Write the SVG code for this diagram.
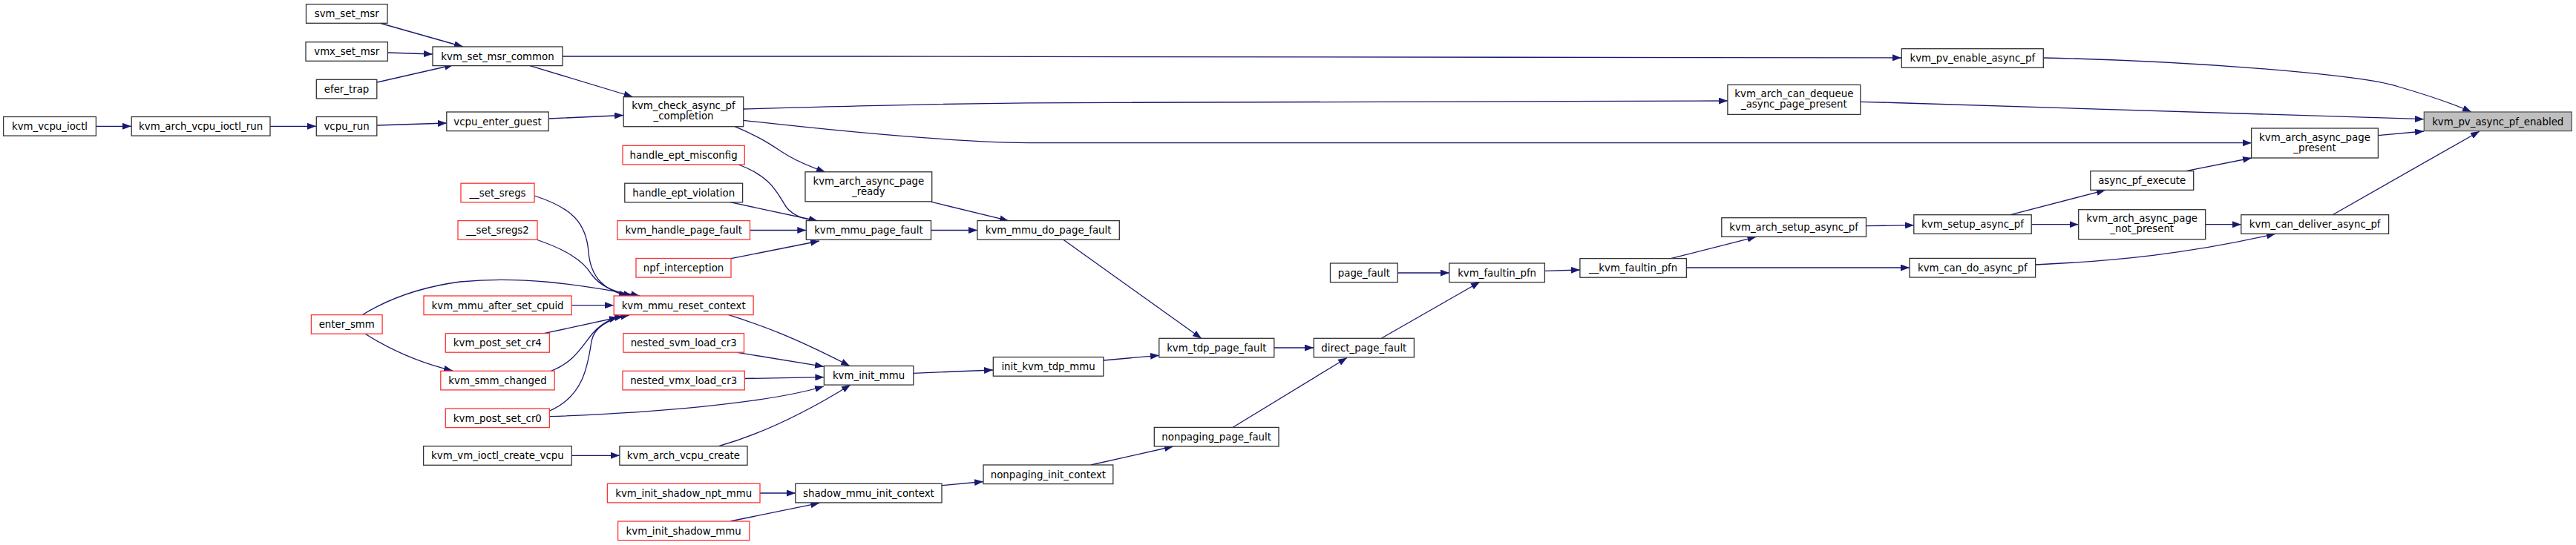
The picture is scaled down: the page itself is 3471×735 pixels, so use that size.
<svg xmlns="http://www.w3.org/2000/svg" width="3471" height="735" viewBox="0 0 3471 735">
<defs>
<marker id="a" viewBox="0 0 12 9" refX="12" refY="4.5" markerWidth="12" markerHeight="9" markerUnits="userSpaceOnUse" orient="auto"><path d="M0,0L12,4.5L0,9z" fill="#191970"/></marker>
<style>
.n rect{fill:#fff;stroke:#333;stroke-width:1.3}
.r rect{stroke:#f33}
.g rect{fill:#bfbfbf;stroke:#555}
text{font-family:"DejaVu Sans",sans-serif;font-size:13.33px;text-anchor:middle;fill:#000}
#edges path{fill:none;stroke:#191970;stroke-width:1.3;marker-end:url(#a)}
</style>
</defs>
<rect width="3471" height="735" fill="#fff"/>
<g id="edges">
<path d="M513,31.5L624,63"/>
<path d="M522.4,71L583,73"/>
<path d="M508,111L611,87.5"/>
<path d="M129.4,170.3L177,170.3"/>
<path d="M364,170.3L426,170.3"/>
<path d="M508,169L602,166"/>
<path d="M758,76C1500,76 2400,76 2562,78"/>
<path d="M714,88.7L852.5,130.5"/>
<path d="M739,160L840,155.5"/>
<path d="M1002,147C1150,143 1300,138.5 1500,138.3L2328,136"/>
<path d="M1002,162.3C1150,179 1300,192.7 1400,192.7L3034,192.7"/>
<path d="M990,170.7C1030,187 1045,200 1062,210S1095,226 1112,232"/>
<path d="M2753,78C2950,82 3180,100 3232,117C3280,131 3310,142 3330,151"/>
<path d="M2507,137.3C2800,145 3100,157 3266,160.7"/>
<path d="M3204.4,182.7L3266,177"/>
<path d="M3143,289.7L3341,177"/>
<path d="M995,222C1040,238 1048,262 1060,280C1070,292 1085,296 1102,298"/>
<path d="M983.7,272.7L1102,298"/>
<path d="M1010.5,310.5L1086.3,310.5"/>
<path d="M985,348.7L1104,325"/>
<path d="M1255,272.3L1359,297.7"/>
<path d="M1254.5,310.5L1317,310.5"/>
<path d="M1432.5,323L1619,456.5"/>
<path d="M1717,469L1770,469"/>
<path d="M1661.3,576.3L1815,482.5"/>
<path d="M1861.7,456L1994,380.3"/>
<path d="M1883,368L1953,368"/>
<path d="M2081.4,365.3L2129,364"/>
<path d="M2251.3,348.7L2366.4,319.3"/>
<path d="M2272.4,361L2573,361"/>
<path d="M2514.5,304.7L2579,303.7"/>
<path d="M2709,289.7L2837,256.3"/>
<path d="M2737.2,302.7L2800.7,302.7"/>
<path d="M2742.6,357C2850,352 2950,342 3066,315.3"/>
<path d="M2971.7,302.7L3020,302.7"/>
<path d="M2945.5,230.7L3034,213"/>
<path d="M720,264C770,280 790,300 793,340C796,375 815,392 846,399"/>
<path d="M724,323.5C760,336 785,350 797,370C808,385 825,393 852,399"/>
<path d="M488,424.7C520,405 560,388 620,380C700,372 780,383 862,399"/>
<path d="M770,411.7L827,411.7"/>
<path d="M733,449.7L833,428"/>
<path d="M742.6,500.3C775,488 785,465 800,448C812,435 825,429 840,426.5"/>
<path d="M740.7,554C785,535 792,495 797,460C801,440 820,430 848,425"/>
<path d="M491.8,450C520,468 560,488 610,500"/>
<path d="M981.8,424.7C1030,440 1070,455 1145,493.5"/>
<path d="M993.3,475.3L1110,494.3"/>
<path d="M1003.3,510.5L1110.4,508.7"/>
<path d="M740.4,561.7C870,557 1030,545 1110,521"/>
<path d="M968.4,601.7C1020,587 1080,560 1146,519"/>
<path d="M770,614.3L835,614.3"/>
<path d="M1230.8,503.3L1338,499"/>
<path d="M1487,486L1562,479.3"/>
<path d="M1024,665L1072,665"/>
<path d="M983.7,703L1104.3,678.3"/>
<path d="M1269,654.7L1325,649.5"/>
<path d="M1470,627L1581,602"/>
</g>
<g id="n1" class="n"><rect x="412.5" y="5.7" width="109.5" height="25.6"/><text x="467.25" y="23.2">svm_set_msr</text></g>
<g id="n2" class="n"><rect x="412" y="56.7" width="110.4" height="25.6"/><text x="467.2" y="74.2">vmx_set_msr</text></g>
<g id="n3" class="n"><rect x="426.3" y="107.3" width="81.5" height="25.6"/><text x="467.05" y="124.8">efer_trap</text></g>
<g id="n4" class="n"><rect x="4.6" y="157.5" width="124.8" height="25.6"/><text x="67" y="175">kvm_vcpu_ioctl</text></g>
<g id="n5" class="n"><rect x="177.2" y="157.5" width="186.8" height="25.6"/><text x="270.6" y="175">kvm_arch_vcpu_ioctl_run</text></g>
<g id="n6" class="n"><rect x="426.3" y="157.5" width="81.5" height="25.6"/><text x="467.05" y="175">vcpu_run</text></g>
<g id="n7" class="n r"><rect x="419.4" y="424.6" width="95.7" height="25.6"/><text x="467.25" y="442.1">enter_smm</text></g>
<g id="n8" class="n"><rect x="583" y="63" width="175" height="25.6"/><text x="670.5" y="80.5">kvm_set_msr_common</text></g>
<g id="n9" class="n"><rect x="601.8" y="151" width="137.4" height="25.6"/><text x="670.5" y="168.5">vcpu_enter_guest</text></g>
<g id="n10" class="n"><rect x="840.2" y="130.7" width="161.5" height="40"/><text x="921" y="147.4">kvm_check_async_pf</text><text x="921" y="161.4">_completion</text></g>
<g id="n11" class="n r"><rect x="839" y="196.3" width="164.3" height="25.6"/><text x="921.15" y="213.8">handle_ept_misconfig</text></g>
<g id="n12" class="n r"><rect x="621" y="247.2" width="99" height="25.6"/><text x="670.5" y="264.7">__set_sregs</text></g>
<g id="n13" class="n"><rect x="841.8" y="247.2" width="158.8" height="25.6"/><text x="921.2" y="264.7">handle_ept_violation</text></g>
<g id="n14" class="n r"><rect x="617" y="297.6" width="107" height="25.6"/><text x="670.5" y="315.1">__set_sregs2</text></g>
<g id="n15" class="n r"><rect x="831.8" y="297.6" width="178.7" height="25.6"/><text x="921.15" y="315.1">kvm_handle_page_fault</text></g>
<g id="n16" class="n r"><rect x="857" y="348.5" width="128" height="25.6"/><text x="921" y="366">npf_interception</text></g>
<g id="n17" class="n r"><rect x="827.2" y="399" width="187.9" height="25.6"/><text x="921.15" y="416.5">kvm_mmu_reset_context</text></g>
<g id="n18" class="n r"><rect x="571" y="399" width="199.2" height="25.6"/><text x="670.6" y="416.5">kvm_mmu_after_set_cpuid</text></g>
<g id="n19" class="n r"><rect x="600.3" y="449.6" width="140.1" height="25.6"/><text x="670.35" y="467.1">kvm_post_set_cr4</text></g>
<g id="n20" class="n r"><rect x="839.9" y="449.6" width="162.6" height="25.6"/><text x="921.2" y="467.1">nested_svm_load_cr3</text></g>
<g id="n21" class="n r"><rect x="593.8" y="500.3" width="153.4" height="25.6"/><text x="670.5" y="517.8">kvm_smm_changed</text></g>
<g id="n22" class="n r"><rect x="839" y="500.3" width="164.3" height="25.6"/><text x="921.15" y="517.8">nested_vmx_load_cr3</text></g>
<g id="n23" class="n r"><rect x="600.3" y="551" width="140.1" height="25.6"/><text x="670.35" y="568.5">kvm_post_set_cr0</text></g>
<g id="n24" class="n"><rect x="570.6" y="601.7" width="199.6" height="25.6"/><text x="670.4" y="619.2">kvm_vm_ioctl_create_vcpu</text></g>
<g id="n25" class="n"><rect x="834.9" y="601.7" width="172.1" height="25.6"/><text x="920.95" y="619.2">kvm_arch_vcpu_create</text></g>
<g id="n26" class="n r"><rect x="818.4" y="652.3" width="205.6" height="25.6"/><text x="921.2" y="669.8">kvm_init_shadow_npt_mmu</text></g>
<g id="n27" class="n r"><rect x="832.6" y="703" width="177.2" height="25.6"/><text x="921.2" y="720.5">kvm_init_shadow_mmu</text></g>
<g id="n28" class="n"><rect x="1085" y="231.8" width="170.7" height="40"/><text x="1170.35" y="248.5">kvm_arch_async_page</text><text x="1170.35" y="262.5">_ready</text></g>
<g id="n29" class="n"><rect x="1086.3" y="297.6" width="168.2" height="25.6"/><text x="1170.4" y="315.1">kvm_mmu_page_fault</text></g>
<g id="n30" class="n"><rect x="1110.4" y="493.5" width="120.4" height="25.6"/><text x="1170.6" y="511">kvm_init_mmu</text></g>
<g id="n31" class="n"><rect x="1071.8" y="652.3" width="197.2" height="25.6"/><text x="1170.4" y="669.8">shadow_mmu_init_context</text></g>
<g id="n32" class="n"><rect x="1316.9" y="297.6" width="191.4" height="25.6"/><text x="1412.6" y="315.1">kvm_mmu_do_page_fault</text></g>
<g id="n33" class="n"><rect x="1338.3" y="481.6" width="148.5" height="25.6"/><text x="1412.55" y="499.1">init_kvm_tdp_mmu</text></g>
<g id="n34" class="n"><rect x="1325" y="627" width="174.8" height="25.6"/><text x="1412.4" y="644.5">nonpaging_init_context</text></g>
<g id="n35" class="n"><rect x="1561.8" y="456.3" width="155" height="25.6"/><text x="1639.3" y="473.8">kvm_tdp_page_fault</text></g>
<g id="n36" class="n"><rect x="1555.3" y="576.4" width="167.7" height="25.6"/><text x="1639.15" y="593.9">nonpaging_page_fault</text></g>
<g id="n37" class="n"><rect x="1770.3" y="456.3" width="135.1" height="25.6"/><text x="1837.85" y="473.8">direct_page_fault</text></g>
<g id="n38" class="n"><rect x="1792.5" y="355" width="90.7" height="25.6"/><text x="1837.85" y="372.5">page_fault</text></g>
<g id="n39" class="n"><rect x="1952.8" y="355" width="128.6" height="25.6"/><text x="2017.1" y="372.5">kvm_faultin_pfn</text></g>
<g id="n40" class="n"><rect x="2128.9" y="348.6" width="143.5" height="25.6"/><text x="2200.65" y="366.1">__kvm_faultin_pfn</text></g>
<g id="n41" class="n"><rect x="2327.9" y="114.4" width="178.9" height="40"/><text x="2417.35" y="131.1">kvm_arch_can_dequeue</text><text x="2417.35" y="145.1">_async_page_present</text></g>
<g id="n42" class="n"><rect x="2319.8" y="293.7" width="194.7" height="25.6"/><text x="2417.15" y="311.2">kvm_arch_setup_async_pf</text></g>
<g id="n43" class="n"><rect x="2562.3" y="65.7" width="191" height="25.6"/><text x="2657.8" y="83.2">kvm_pv_enable_async_pf</text></g>
<g id="n44" class="n"><rect x="2578.8" y="289.7" width="158.4" height="25.6"/><text x="2658" y="307.2">kvm_setup_async_pf</text></g>
<g id="n45" class="n"><rect x="2573" y="348.4" width="169.6" height="25.6"/><text x="2657.8" y="365.9">kvm_can_do_async_pf</text></g>
<g id="n46" class="n"><rect x="2816.8" y="230.7" width="138.9" height="25.6"/><text x="2886.25" y="248.2">async_pf_execute</text></g>
<g id="n47" class="n"><rect x="2800.7" y="282.7" width="171" height="40"/><text x="2886.2" y="299.4">kvm_arch_async_page</text><text x="2886.2" y="313.4">_not_present</text></g>
<g id="n48" class="n"><rect x="3033.6" y="173" width="170.8" height="40"/><text x="3119" y="189.7">kvm_arch_async_page</text><text x="3119" y="203.7">_present</text></g>
<g id="n49" class="n"><rect x="3019.8" y="289.7" width="198.8" height="25.6"/><text x="3119.2" y="307.2">kvm_can_deliver_async_pf</text></g>
<g id="n50" class="n g"><rect x="3266.3" y="151" width="198.9" height="25.6"/><text x="3365.75" y="168.5">kvm_pv_async_pf_enabled</text></g>
</svg>
